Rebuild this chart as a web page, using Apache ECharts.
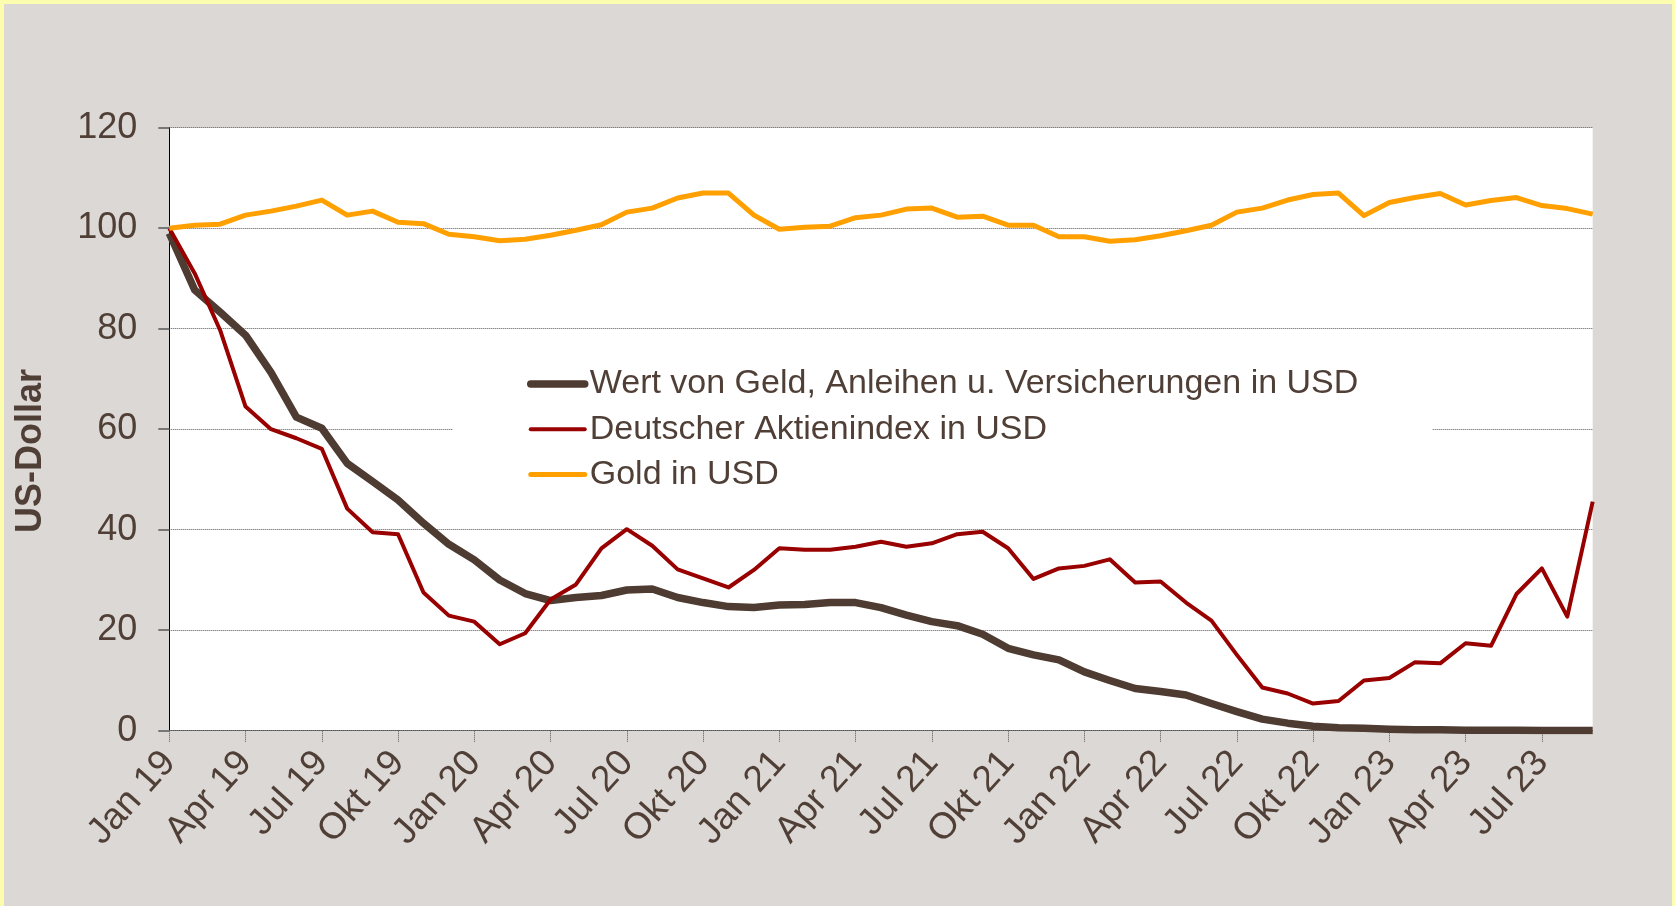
<!DOCTYPE html>
<html>
<head>
<meta charset="utf-8">
<script src="https://cdn.jsdelivr.net/npm/echarts@6/dist/echarts.min.js"></script>
<style>
    html, body { margin: 0; padding: 0; background: #fdfdb0; }
    #chart { position: absolute; left: 4px; top: 4px; width: 1668px; height: 902px; background: #dcd8d5; }
</style>
</head>
<body>
<div id="chart"></div>
<script>
// Monatswerte Jan 19 bis Sep 23
const months = ['Jan', 'Feb', 'Mrz', 'Apr', 'Mai', 'Jun', 'Jul', 'Aug', 'Sep', 'Okt', 'Nov', 'Dez'];
const years = ['19', '20', '21', '22', '23'];
let categories = [];
for (let y = 0; y < years.length; y++) {
    for (let m = 0; m < 12; m++) {
        if (y === 4 && m > 8) break;
        categories.push(months[m] + ' ' + years[y]);
    }
}

const seriesNames = ['Wert von Geld, Anleihen u. Versicherungen in USD', 'Deutscher Aktienindex in USD', 'Gold in USD'];

const geldValues = [99, 87.7, 83.3, 78.7, 71.3, 62.4, 60.2, 53.2, 49.6, 45.9,
    41.3, 37.1, 34.0, 30.0, 27.3, 25.9, 26.5, 26.9, 28.0, 28.2,
    26.5, 25.5, 24.7, 24.5, 25.0, 25.1, 25.5, 25.5, 24.5, 23.0,
    21.7, 20.9, 19.2, 16.4, 15.1, 14.1, 11.7, 10.0, 8.4, 7.8,
    7.1, 5.4, 3.8, 2.3, 1.5, 0.9, 0.6, 0.5, 0.3, 0.2,
    0.2, 0.1, 0.1, 0.1, 0.05, 0.03, 0.02];

const daxValues = [100, 91.0, 79.7, 64.5, 60.0, 58.2, 56.1, 44.2, 39.5, 39.1,
    27.5, 22.9, 21.7, 17.2, 19.4, 26.1, 29.1, 36.3, 40.1, 36.8,
    32.1, 30.3, 28.5, 32.0, 36.3, 36.0, 36.0, 36.6, 37.6, 36.6,
    37.3, 39.1, 39.6, 36.3, 30.2, 32.3, 32.8, 34.1, 29.5, 29.7,
    25.5, 21.9, 15.1, 8.6, 7.4, 5.4, 5.9, 10.0, 10.5, 13.6,
    13.4, 17.4, 16.9, 27.2, 32.3, 22.7, 45.6];

const goldValues = [100, 100.6, 100.8, 102.6, 103.4, 104.4, 105.6, 102.6, 103.4, 101.2,
    100.9, 98.8, 98.3, 97.5, 97.8, 98.6, 99.6, 100.7, 103.2, 104.0,
    106.0, 107.0, 107.0, 102.6, 99.8, 100.2, 100.4, 102.1, 102.6, 103.8,
    104.0, 102.2, 102.4, 100.6, 100.6, 98.3, 98.3, 97.4, 97.7, 98.5,
    99.5, 100.6, 103.2, 104.0, 105.6, 106.7, 107.0, 102.5, 105.1, 106.1,
    106.9, 104.6, 105.5, 106.1, 104.5, 103.9, 102.8];

const textColor = '#4f3f36';
const fontFamily = '"Liberation Sans", Arial, sans-serif';

let chart = echarts.init(document.getElementById('chart'));
let options = {
    animation: false,
    textStyle: { fontFamily: fontFamily, color: textColor },
    grid: {
        left: 165.3,
        right: 79.3,
        top: 123.7,
        bottom: 175.3,
        show: true,
        backgroundColor: '#ffffff',
        borderWidth: 0
    },
    legend: {
        orient: 'vertical',
        left: 449,
        top: 340,
        padding: [20, 74, 22, 74],
        backgroundColor: '#ffffff',
        itemWidth: 54,
        itemHeight: 40,
        itemGap: 5.2,
        itemStyle: { opacity: 0 },
        lineStyle: { width: 'inherit', cap: 'round' },
        textStyle: { fontSize: 34, color: textColor, fontFamily: fontFamily, lineHeight: 40 },
        data: seriesNames
    },
    graphic: [{
        type: 'text',
        x: 27,
        y: 447,
        rotation: Math.PI / 2,
        style: {
            text: 'US-Dollar',
            fontSize: 36,
            fontWeight: 'bold',
            fontFamily: fontFamily,
            fill: textColor,
            align: 'center',
            verticalAlign: 'middle'
        }
    }],
    xAxis: {
        type: 'category',
        data: categories,
        boundaryGap: false,
        axisLine: { lineStyle: { color: '#555', type: 'dotted', width: 1 } },
        axisTick: { interval: 2, length: 12, lineStyle: { color: '#555', type: 'dotted' } },
        axisLabel: {
            interval: 2,
            rotate: 48,
            margin: 26,
            fontSize: 37,
            color: textColor,
            fontFamily: fontFamily
        },
        splitLine: { show: false }
    },
    yAxis: {
        type: 'value',
        min: 0,
        max: 120,
        interval: 20,
        axisLine: { show: true, lineStyle: { color: '#000', width: 1 } },
        axisTick: { show: true, length: 11, lineStyle: { color: '#777', width: 2 } },
        axisLabel: { margin: 32, fontSize: 36, color: textColor, fontFamily: fontFamily },
        splitLine: { lineStyle: { color: '#555', type: 'dotted', width: 1 } }
    },
    series: [
        {
            name: seriesNames[0],
            type: 'line',
            data: geldValues,
            symbol: 'none',
            color: '#4e3b31',
            lineStyle: { width: 7.5, join: 'round', cap: 'butt' }
        },
        {
            name: seriesNames[1],
            type: 'line',
            data: daxValues,
            symbol: 'none',
            color: '#990000',
            lineStyle: { width: 4, join: 'round' }
        },
        {
            name: seriesNames[2],
            type: 'line',
            data: goldValues,
            symbol: 'none',
            color: '#ffa000',
            lineStyle: { width: 5, join: 'round' }
        }
    ]
};
chart.setOption(options);
</script>
</body>
</html>
